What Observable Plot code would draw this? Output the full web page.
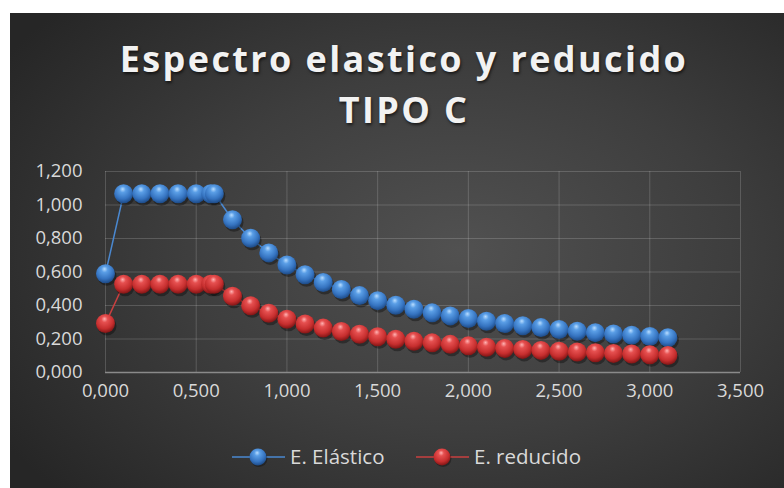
<!DOCTYPE html>
<html><head><meta charset="utf-8">
<script src="https://cdn.jsdelivr.net/npm/d3@7"></script>
<script src="https://cdn.jsdelivr.net/npm/@observablehq/plot@0.6"></script>
<style>
html,body{margin:0;padding:0;background:#fff;width:784px;height:488px;overflow:hidden;}
#card{position:absolute;left:10px;top:13px;width:774px;height:475px;
 background:radial-gradient(ellipse 70% 75% at 58% 50%, #515151 0%, #3e3e3e 50%, #262626 100%);}
#title{position:absolute;left:7px;top:20px;width:774px;text-align:center;color:#f2f2f2;
 font-family:"Open Sans",sans-serif;font-weight:700;font-size:36px;line-height:51px;letter-spacing:2.4px;
 text-shadow:1px 2px 3px rgba(0,0,0,0.6);}
#chart{position:absolute;left:0;top:142px;}
#legend{position:absolute;left:0;top:424px;width:774px;height:44px;overflow:visible;}
</style></head>
<body>
<svg width="0" height="0" style="position:absolute">
 <defs>
  <radialGradient id="gBlue" cx="45%" cy="35%" r="65%" fx="45%" fy="25%">
   <stop offset="0%" stop-color="#b9ddff"/>
   <stop offset="25%" stop-color="#5a9ee6"/>
   <stop offset="70%" stop-color="#3573c0"/>
   <stop offset="100%" stop-color="#1d4a86"/>
  </radialGradient>
  <radialGradient id="gRed" cx="45%" cy="35%" r="65%" fx="45%" fy="25%">
   <stop offset="0%" stop-color="#ffb3b3"/>
   <stop offset="25%" stop-color="#e65050"/>
   <stop offset="70%" stop-color="#c62e2e"/>
   <stop offset="100%" stop-color="#801515"/>
  </radialGradient>
 </defs>
</svg>
<div id="card">
 <div id="title">Espectro elastico y reducido<br>TIPO C</div>
 <div id="chart"></div>
 <svg id="legend" width="774" height="44"></svg>
</div>
<script>
const periods = [0, 0.1, 0.2, 0.3, 0.4, 0.5, 0.58, 0.6, 0.7, 0.8, 0.9, 1.0, 1.1, 1.2, 1.3, 1.4, 1.5, 1.6, 1.7, 1.8, 1.9, 2.0, 2.1, 2.2, 2.3, 2.4, 2.5, 2.6, 2.7, 2.8, 2.9, 3.0, 3.1];
const elastico = [0.590, 1.067, 1.067, 1.067, 1.067, 1.067, 1.067, 1.067, 0.912, 0.802, 0.714, 0.642, 0.584, 0.537, 0.495, 0.459, 0.429, 0.402, 0.378, 0.356, 0.338, 0.322, 0.306, 0.292, 0.279, 0.268, 0.257, 0.247, 0.238, 0.230, 0.222, 0.215, 0.208];
const reducido = [0.292, 0.527, 0.527, 0.527, 0.527, 0.527, 0.527, 0.527, 0.455, 0.398, 0.354, 0.318, 0.289, 0.265, 0.245, 0.228, 0.213, 0.199, 0.187, 0.177, 0.168, 0.159, 0.151, 0.144, 0.138, 0.132, 0.127, 0.122, 0.118, 0.114, 0.110, 0.106, 0.102];
const xTicks = [0, 0.5, 1.0, 1.5, 2.0, 2.5, 3.0, 3.5];
const yTicks = [0, 0.2, 0.4, 0.6, 0.8, 1.0, 1.2];
const seriesNames = ["E. Elástico", "E. reducido"];

const fmt = d => d.toFixed(3).replace(".", ",");
const dataE = periods.map((t, i) => ({t, v: elastico[i]}));
const dataR = periods.map((t, i) => ({t, v: reducido[i]}));
const R = 9.5;

const chart = Plot.plot({
  width: 774, height: 249,
  marginLeft: 95, marginRight: 44, marginTop: 16, marginBottom: 32,
  style: {background: "transparent", color: "#d9d9d9", fontFamily: "'Open Sans', sans-serif", fontSize: "18.5px", overflow: "visible"},
  x: {domain: [0, 3.5], ticks: xTicks, tickFormat: fmt, label: null},
  y: {domain: [0, 1.2], ticks: yTicks, tickFormat: fmt, label: null},
  marks: [
    Plot.gridY(yTicks, {stroke: "#ffffff", strokeOpacity: 0.17, strokeWidth: 1}),
    Plot.gridX(xTicks, {stroke: "#ffffff", strokeOpacity: 0.17, strokeWidth: 1}),
    Plot.ruleY([0], {stroke: "#8a8a8a", strokeWidth: 1.5}),
    Plot.axisX({ticks: xTicks, tickFormat: fmt, tickSize: 0, tickPadding: 11, fill: "#d9d9d9", fontSize: 18.5, label: null}),
    Plot.axisY({ticks: yTicks, tickFormat: fmt, tickSize: 0, tickPadding: 23, fill: "#d9d9d9", fontSize: 18.5, label: null}),
    Plot.line(dataE, {x: "t", y: "v", stroke: "#4a88d0", strokeWidth: 1.5}),
    Plot.line(dataR, {x: "t", y: "v", stroke: "#c94040", strokeWidth: 1.5}),
    Plot.dot(dataE, {x: "t", y: "v", r: R, fill: "#000", fillOpacity: 0.35, dx: 1.5, dy: 2.5}),
    Plot.dot(dataE, {x: "t", y: "v", r: R, fill: "url(#gBlue)"}),
    Plot.dot(dataR, {x: "t", y: "v", r: R, fill: "#000", fillOpacity: 0.35, dx: 1.5, dy: 2.5}),
    Plot.dot(dataR, {x: "t", y: "v", r: R, fill: "url(#gRed)"})
  ]
});
document.getElementById("chart").appendChild(chart);

// legend
const lg = d3.select("#legend");
const items = [
  {name: seriesNames[0], x0: 222, stroke: "#4a88d0", grad: "url(#gBlue)"},
  {name: seriesNames[1], x0: 406, stroke: "#c94040", grad: "url(#gRed)"}
];
const cy = 20;
for (const it of items) {
  lg.append("line").attr("x1", it.x0).attr("x2", it.x0 + 53).attr("y1", cy).attr("y2", cy)
    .attr("stroke", it.stroke).attr("stroke-width", 1.5);
  lg.append("circle").attr("cx", it.x0 + 27).attr("cy", cy + 1.5).attr("r", 8.5).attr("fill", "#000").attr("opacity", 0.3);
  lg.append("circle").attr("cx", it.x0 + 26).attr("cy", cy).attr("r", 8.5).attr("fill", it.grad);
  lg.append("text").attr("x", it.x0 + 58).attr("y", cy).attr("dy", "0.35em")
    .attr("fill", "#d9d9d9").style("font-family", "'Open Sans', sans-serif").style("font-size", "20.5px")
    .text(it.name);
}
</script>
</body></html>
